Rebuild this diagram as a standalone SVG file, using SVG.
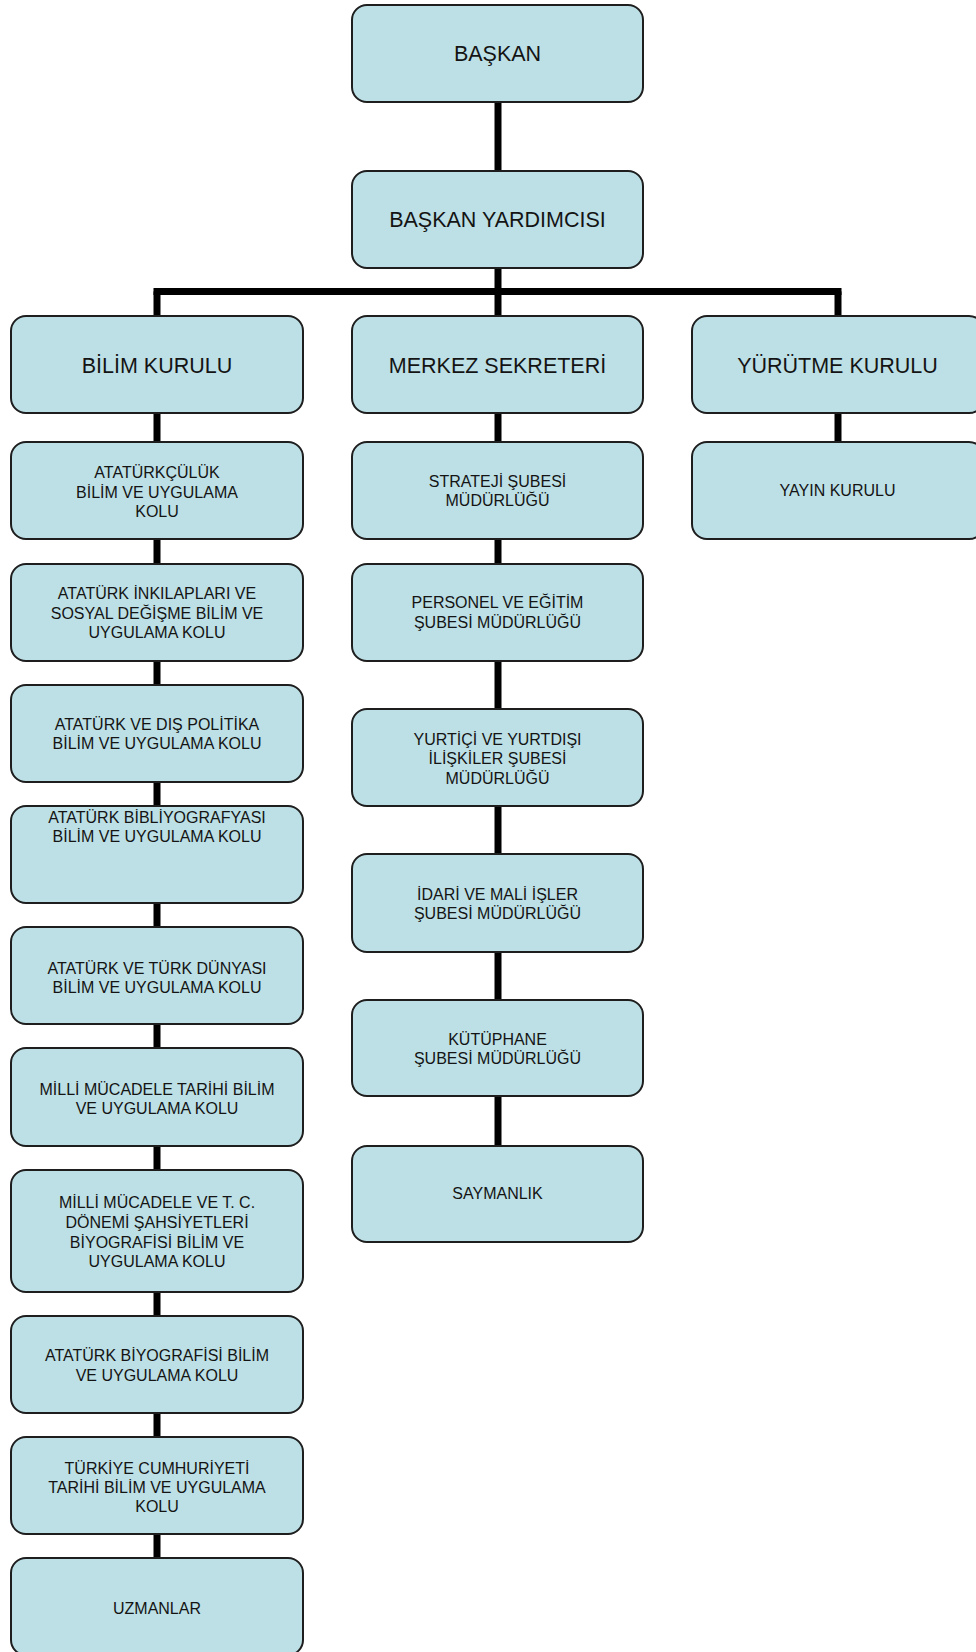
<svg xmlns="http://www.w3.org/2000/svg" width="976" height="1652" viewBox="0 0 976 1652">
<style>
.box{fill:#bde0e6;stroke:#1e1e1e;stroke-width:2}
.t{font-family:"Liberation Sans",Arial,sans-serif;fill:#141414;text-anchor:middle}
.big{font-size:21.5px}
.sm{font-size:16px}
.c{stroke:#000;stroke-width:7;fill:none;stroke-linecap:butt}
</style>
<rect width="976" height="1652" fill="#fff"/>
<g id="connectors">
<line class="c" x1="498" y1="101" x2="498" y2="171"/>
<line class="c" x1="498" y1="267" x2="498" y2="317"/>
<line class="c" x1="153.5" y1="291.5" x2="841.5" y2="291.5"/>
<line class="c" x1="157" y1="291.5" x2="157" y2="317"/>
<line class="c" x1="838" y1="291.5" x2="838" y2="317"/>
<line class="c" x1="157" y1="412" x2="157" y2="1559"/>
<line class="c" x1="498" y1="412" x2="498" y2="1147"/>
<line class="c" x1="838" y1="412" x2="838" y2="443"/>
</g>
<g id="baskan"><rect class="box" x="352" y="5" width="291" height="97" rx="15"/><text class="t big" x="497.5" y="61">BAŞKAN</text></g>
<g id="baskan-yardimcisi"><rect class="box" x="352" y="171" width="291" height="97" rx="15"/><text class="t big" x="497.5" y="227">BAŞKAN YARDIMCISI</text></g>
<g id="bilim-kurulu"><rect class="box" x="11" y="316" width="292" height="97" rx="15"/><text class="t big" x="157" y="373">BİLİM KURULU</text></g>
<g id="merkez-sekreteri"><rect class="box" x="352" y="316" width="291" height="97" rx="15"/><text class="t big" x="497.5" y="373">MERKEZ SEKRETERİ</text></g>
<g id="yurutme-kurulu"><rect class="box" x="692" y="316" width="292" height="97" rx="15"/><text class="t big" x="837.5" y="373">YÜRÜTME KURULU</text></g>

<g id="ataturkculuk"><rect class="box" x="11" y="442" width="292" height="97" rx="15"/><text class="t sm" x="157" y="478">ATATÜRKÇÜLÜK</text><text class="t sm" x="157" y="498">BİLİM VE UYGULAMA</text><text class="t sm" x="157" y="517">KOLU</text></g>
<g id="inkilaplar"><rect class="box" x="11" y="564" width="292" height="97" rx="15"/><text class="t sm" x="157" y="599">ATATÜRK İNKILAPLARI VE</text><text class="t sm" x="157" y="619">SOSYAL DEĞİŞME BİLİM VE</text><text class="t sm" x="157" y="638">UYGULAMA KOLU</text></g>
<g id="dis-politika"><rect class="box" x="11" y="685" width="292" height="97" rx="15"/><text class="t sm" x="157" y="730">ATATÜRK VE DIŞ POLİTİKA</text><text class="t sm" x="157" y="749">BİLİM VE UYGULAMA KOLU</text></g>
<g id="bibliyografya"><rect class="box" x="11" y="806" width="292" height="97" rx="15"/><text class="t sm" x="157" y="823">ATATÜRK BİBLİYOGRAFYASI</text><text class="t sm" x="157" y="842">BİLİM VE UYGULAMA KOLU</text></g>
<g id="turk-dunyasi"><rect class="box" x="11" y="927" width="292" height="97" rx="15"/><text class="t sm" x="157" y="973.5">ATATÜRK VE TÜRK DÜNYASI</text><text class="t sm" x="157" y="993">BİLİM VE UYGULAMA KOLU</text></g>
<g id="milli-mucadele-tarihi"><rect class="box" x="11" y="1048" width="292" height="98" rx="15"/><text class="t sm" x="157" y="1095">MİLLİ MÜCADELE TARİHİ BİLİM</text><text class="t sm" x="157" y="1114">VE UYGULAMA KOLU</text></g>
<g id="sahsiyetler"><rect class="box" x="11" y="1170" width="292" height="122" rx="15"/><text class="t sm" x="157" y="1208">MİLLİ MÜCADELE VE T. C.</text><text class="t sm" x="157" y="1228">DÖNEMİ ŞAHSİYETLERİ</text><text class="t sm" x="157" y="1248">BİYOGRAFİSİ BİLİM VE</text><text class="t sm" x="157" y="1267">UYGULAMA KOLU</text></g>
<g id="ataturk-biyografisi"><rect class="box" x="11" y="1316" width="292" height="97" rx="15"/><text class="t sm" x="157" y="1361">ATATÜRK BİYOGRAFİSİ BİLİM</text><text class="t sm" x="157" y="1381">VE UYGULAMA KOLU</text></g>
<g id="tc-tarihi"><rect class="box" x="11" y="1437" width="292" height="97" rx="15"/><text class="t sm" x="157" y="1473.5">TÜRKİYE CUMHURİYETİ</text><text class="t sm" x="157" y="1493">TARİHİ BİLİM VE UYGULAMA</text><text class="t sm" x="157" y="1512">KOLU</text></g>
<g id="uzmanlar"><rect class="box" x="11" y="1558" width="292" height="97" rx="15"/><text class="t sm" x="157" y="1614">UZMANLAR</text></g>

<g id="strateji"><rect class="box" x="352" y="442" width="291" height="97" rx="15"/><text class="t sm" x="497.5" y="487">STRATEJİ ŞUBESİ</text><text class="t sm" x="497.5" y="506">MÜDÜRLÜĞÜ</text></g>
<g id="personel"><rect class="box" x="352" y="564" width="291" height="97" rx="15"/><text class="t sm" x="497.5" y="608">PERSONEL VE EĞİTİM</text><text class="t sm" x="497.5" y="628">ŞUBESİ MÜDÜRLÜĞÜ</text></g>
<g id="iliskiler"><rect class="box" x="352" y="709" width="291" height="97" rx="15"/><text class="t sm" x="497.5" y="745">YURTİÇİ VE YURTDIŞI</text><text class="t sm" x="497.5" y="764">İLİŞKİLER ŞUBESİ</text><text class="t sm" x="497.5" y="784">MÜDÜRLÜĞÜ</text></g>
<g id="idari-mali"><rect class="box" x="352" y="854" width="291" height="98" rx="15"/><text class="t sm" x="497.5" y="900">İDARİ VE MALİ İŞLER</text><text class="t sm" x="497.5" y="919">ŞUBESİ MÜDÜRLÜĞÜ</text></g>
<g id="kutuphane"><rect class="box" x="352" y="1000" width="291" height="96" rx="15"/><text class="t sm" x="497.5" y="1045">KÜTÜPHANE</text><text class="t sm" x="497.5" y="1064">ŞUBESİ MÜDÜRLÜĞÜ</text></g>
<g id="saymanlik"><rect class="box" x="352" y="1146" width="291" height="96" rx="15"/><text class="t sm" x="497.5" y="1199">SAYMANLIK</text></g>

<g id="yayin-kurulu"><rect class="box" x="692" y="442" width="292" height="97" rx="15"/><text class="t sm" x="837.5" y="496">YAYIN KURULU</text></g>
</svg>
